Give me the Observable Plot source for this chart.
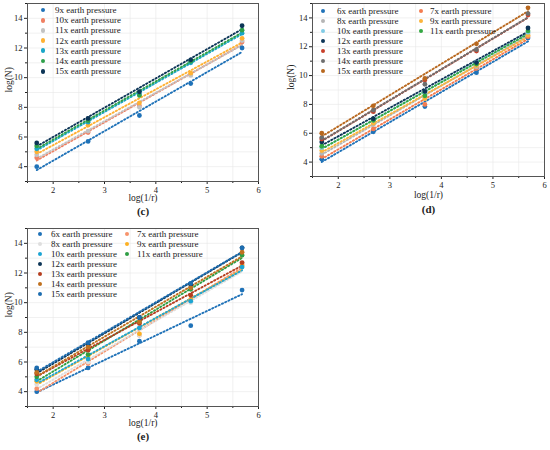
<!DOCTYPE html>
<html><head><meta charset="utf-8">
<script src="https://cdn.jsdelivr.net/npm/d3@7"></script>
<script src="https://cdn.jsdelivr.net/npm/@observablehq/plot@0.6"></script>
<style>
body{margin:0;background:#fff;font-family:"Liberation Serif","Times New Roman",serif;}
#wrap{position:relative;width:550px;height:450px;overflow:hidden;background:#fff}
.panel{position:absolute}
.panel svg text{font-family:"Liberation Serif","Times New Roman",serif}
.leg{position:absolute;font-size:9px;color:#1a1a1a;white-space:nowrap;font-family:"Liberation Serif",serif}
.item{position:absolute;height:10px;line-height:10px}
.sw{position:absolute;width:4.8px;height:4.8px;border-radius:50%;top:2.6px}
</style></head><body><div id="wrap"></div>
<script>
// ---------- data ----------
const xs = [1.68, 2.68, 3.68, 4.68, 5.68];

const seriesC = ["9x earth pressure","10x earth pressure","11x earth pressure","12x earth pressure","13x earth pressure","14x earth pressure","15x earth pressure"];
const valuesC = [
  [4.0, 5.7, 7.45, 9.6, 12.0],
  [4.6, 6.3, 8.1, 10.2, 12.4],
  [4.8, 6.4, 8.0, 10.15, 12.5],
  [5.0, 6.8, 8.3, 10.3, 12.65],
  [5.2, 7.0, 8.9, 11.0, 13.0],
  [5.4, 7.1, 8.8, 11.1, 13.2],
  [5.6, 7.25, 9.05, 11.2, 13.5]
];
const colorsC = ["#1f72b8","#f08062","#c2c2c2","#ffb133","#1aa6c8","#2ea04a","#0c3557"];

const seriesD = ["6x earth pressure","7x earth pressure","8x earth pressure","9x earth pressure","10x earth pressure","11x earth pressure","12x earth pressure","13x earth pressure","14x earth pressure","15x earth pressure"];
const valuesD = [
  [4.2, 6.1, 7.85, 10.2, 12.6],
  [4.4, 6.3, 8.0, 10.5, 12.7],
  [4.6, 6.6, 8.5, 10.6, 12.9],
  [4.8, 6.7, 8.4, 10.7, 12.8],
  [5.0, 6.9, 8.8, 10.9, 13.0],
  [5.1, 6.9, 8.6, 10.8, 13.1],
  [5.4, 7.0, 8.9, 10.9, 13.3],
  [5.6, 7.5, 9.7, 11.7, 14.2],
  [5.7, 7.6, 9.4, 11.8, 14.3],
  [6.0, 7.9, 9.8, 12.2, 14.7]
];
const colorsD = ["#1f72b8","#f47c50","#b5b5b5","#fbb43c","#80cbe6","#34a843","#0c3557","#c8402a","#6e6e6e","#b8681f"];

const seriesE = ["6x earth pressure","7x earth pressure","8x earth pressure","9x earth pressure","10x earth pressure","11x earth pressure","12x earth pressure","13x earth pressure","14x earth pressure","15x earth pressure"];
const valuesE = [
  [4.0, 5.6, 7.4, 8.45, 10.85],
  [4.2, 5.9, 7.8, 10.2, 12.6],
  [4.5, 6.0, 7.8, 10.0, 12.4],
  [4.7, 6.4, 7.9, 10.2, 12.5],
  [4.8, 6.2, 8.3, 10.1, 12.4],
  [5.0, 6.5, 8.7, 10.9, 13.2],
  [5.5, 7.2, 9.0, 11.2, 13.7],
  [5.2, 6.8, 8.6, 10.5, 12.7],
  [5.3, 7.0, 8.7, 11.0, 13.4],
  [5.6, 7.3, 9.0, 11.3, 13.7]
];
const colorsE = ["#1f72b8","#f7936b","#dedede","#fdb022","#1ca5d4","#2f9e44","#0c3557","#b63e1f","#c0711f","#1d6db0"];

const xTicks = [2, 3, 4, 5, 6];
const yTicks = [4, 6, 8, 10, 12, 14];

// ---------- drawing ----------
const wrap = document.getElementById("wrap");
const FONT = "'Liberation Serif', 'Times New Roman', serif";

function rows(series, values) {
  const out = [];
  series.forEach((s, i) => values[i].forEach((v, j) => out.push({series: s, x: xs[j], y: v})));
  return out;
}

function panel(cfg) {
  const data = rows(cfg.series, cfg.values);
  const minorX = d3.range(1.5, 6.01, 0.5).filter(v => !xTicks.includes(v));
  const minorY = d3.range(3, 15.01, 1).filter(v => !yTicks.includes(v));
  const p = Plot.plot({
    width: 275, height: 225,
    marginLeft: cfg.ml, marginRight: cfg.mr, marginTop: cfg.mt, marginBottom: cfg.mb,
    style: {fontFamily: FONT, fontSize: "8.5px", color: "#222", background: "transparent"},
    x: {domain: [1.5, 6]},
    y: {domain: [3, 15]},
    color: {domain: cfg.series, range: cfg.colors, type: "ordinal"},
    marks: [
      Plot.gridX(d3.range(1.5, 6.01, 0.5), {stroke: "#e8e8e8", strokeOpacity: 1, strokeWidth: 0.6}),
      Plot.gridY(d3.range(3, 15.01, 1), {stroke: "#e8e8e8", strokeOpacity: 1, strokeWidth: 0.6}),
      Plot.axisX(xTicks, {tickSize: 3, tickPadding: 2, label: null, fontSize: 8.5}),
      Plot.axisX(minorX, {tickSize: 2, text: null, label: null}),
      Plot.axisY(yTicks, {tickSize: 3, tickPadding: 2, label: null, fontSize: 8.5}),
      Plot.axisY(minorY, {tickSize: 2, text: null, label: null}),
      Plot.linearRegressionY(data, {x: "x", y: "y", stroke: "series", ci: 0,
        strokeWidth: 1.9, strokeDasharray: "1.3 2.3"}),
      Plot.dot(data, {x: "x", y: "y", fill: "series", r: 2.4}),
      Plot.frame({stroke: "#555", strokeWidth: 1}),
      Plot.text(["log(1/r)"], {frameAnchor: "bottom", dy: cfg.xl, fontSize: 9.5}),
      Plot.text([cfg.tag], {frameAnchor: "bottom", dy: cfg.tl, fontSize: 11, fontWeight: "bold"}),
      Plot.text(["log(N)"], {frameAnchor: "left", dx: cfg.yl, rotate: -90, fontSize: 9.5})
    ]
  });
  const box = document.createElement("div");
  box.className = "panel";
  box.style.left = cfg.left + "px";
  box.style.top = cfg.top + "px";
  box.appendChild(p);
  wrap.appendChild(box);

  // legend
  const leg = document.createElement("div");
  leg.className = "leg";
  leg.style.left = cfg.left + "px";
  leg.style.top = cfg.top + "px";
  cfg.series.forEach((s, i) => {
    let col = 0, row = i;
    if (cfg.twoCol) {
      if (i < 6) { col = i % 2; row = Math.floor(i / 2); } else { col = 0; row = i - 3; }
    }
    const it = document.createElement("div");
    it.className = "item";
    it.style.top = (cfg.lt + row * cfg.ls - 5) + "px";
    it.style.left = (col ? cfg.c2 : cfg.c1) + "px";
    const sw = document.createElement("div");
    sw.className = "sw";
    sw.style.left = "-2.4px";
    sw.style.background = cfg.colors[i];
    const tx = document.createElement("span");
    tx.style.position = "absolute";
    tx.style.left = (col ? cfg.g2 : cfg.g1) + "px";
    tx.textContent = s;
    it.appendChild(sw); it.appendChild(tx);
    leg.appendChild(it);
  });
  wrap.appendChild(leg);
}

panel({series: seriesC, values: valuesC, colors: colorsC, tag: "(c)",
  left: 0, top: 0, ml: 27, mr: 17, mt: 3, mb: 44, xl: 19.5, tl: 33, yl: -19,
  twoCol: false, lt: 10, ls: 10.2, c1: 43, g1: 12});
panel({series: seriesD, values: valuesD, colors: colorsD, tag: "(d)",
  left: 275, top: 0, ml: 37, mr: 6, mt: 3, mb: 49, xl: 21, tl: 36, yl: -22,
  twoCol: true, lt: 11, ls: 10, c1: 48, g1: 14, c2: 146, g2: 9});
panel({series: seriesE, values: valuesE, colors: colorsE, tag: "(e)",
  left: 0, top: 225, ml: 27, mr: 17, mt: 3, mb: 44, xl: 19.5, tl: 33, yl: -19,
  twoCol: true, lt: 9, ls: 10, c1: 40, g1: 11, c2: 127, g2: 10});
</script>
</body></html>
